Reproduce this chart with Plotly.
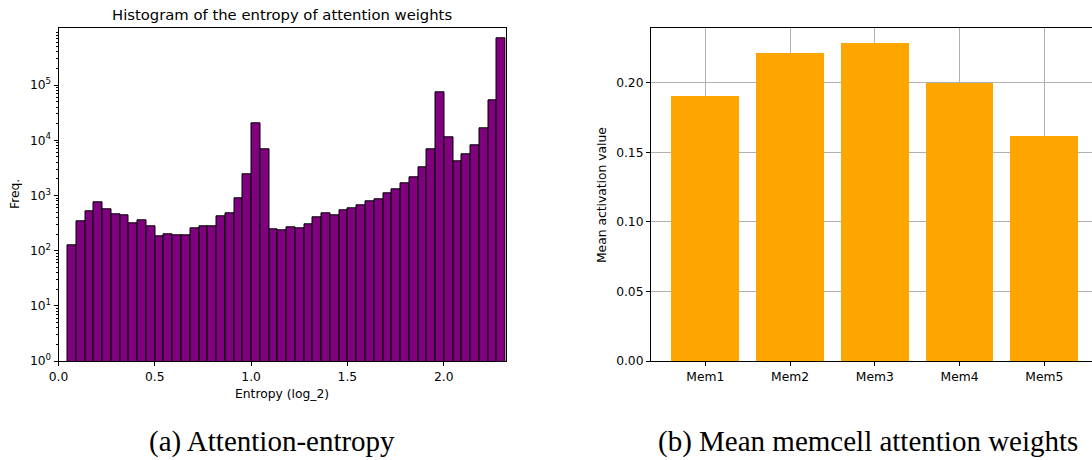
import numpy as np
import plotly.graph_objects as go

# ---------------- data ----------------
# Histogram of attention entropy (50 bins, log-scaled counts)
hist_counts = [
    127, 345, 516, 752, 569, 456, 437, 313, 355, 280,
    184, 200, 192, 192, 250, 272, 280, 413, 475, 901,
    2420, 20300, 6870, 244, 230, 269, 258, 300, 408, 482,
    443, 531, 593, 663, 773, 864, 1095, 1312, 1662, 2135,
    3243, 6870, 73100, 11330, 4220, 5500, 8230, 16500, 53100, 706000,
]
bin_start = 0.047
bin_end = float(np.log2(5))
x_ticks_a = [0.0, 0.5, 1.0, 1.5, 2.0]
y_ticks_a = [1, 10, 100, 1000, 10000, 100000]
y_ticktext_a = ["10<sup>0</sup>", "10<sup>1</sup>", "10<sup>2</sup>",
                "10<sup>3</sup>", "10<sup>4</sup>", "10<sup>5</sup>"]

# Mean memcell attention weights
mem_labels = ["Mem1", "Mem2", "Mem3", "Mem4", "Mem5"]
mem_values = [0.1904, 0.2210, 0.2282, 0.1997, 0.1614]
y_ticks_b = [0.00, 0.05, 0.10, 0.15, 0.20]

# ---------------- layout helpers ----------------
W, H = 1092, 460
def px(xp):
    return xp / W
def py(yp):
    return 1 - yp / H

edges = np.linspace(bin_start, bin_end, len(hist_counts) + 1)
centers = (edges[:-1] + edges[1:]) / 2
widths = np.diff(edges)

minor_vals = [m * 10 ** d for d in range(0, 6) for m in range(2, 10)]

FONT = "DejaVu Sans"
TXT = "#000000"
fs = 12.3

fig = go.Figure()

fig.add_trace(go.Bar(
    x=centers, y=hist_counts, width=widths,
    marker=dict(color="#800080", line=dict(color="#000000", width=1)),
    xaxis="x", yaxis="y", showlegend=False,
))

fig.add_trace(go.Bar(
    x=list(range(len(mem_labels))), y=mem_values, width=0.8,
    marker=dict(color="#FFA500", line=dict(width=0)),
    xaxis="x2", yaxis="y2", showlegend=False,
))

fig.update_layout(
    width=W, height=H, autosize=False,
    margin=dict(l=0, r=0, t=0, b=0, pad=0, autoexpand=False),
    paper_bgcolor="white", plot_bgcolor="white",
    font=dict(family=FONT, size=fs, color=TXT),
    bargap=0, showlegend=False,
    xaxis=dict(
        domain=[px(58.5), px(505.7)],
        range=[0, bin_end], automargin=False,
        tickvals=x_ticks_a, ticktext=[f"{v:.1f}" for v in x_ticks_a],
        ticks="outside", ticklen=4, tickwidth=1, tickcolor="black",
        showline=True, linecolor="black", linewidth=1, mirror=True,
        showgrid=False, zeroline=False,
        tickfont=dict(size=fs, color=TXT),
        anchor="y",
    ),
    yaxis=dict(
        domain=[py(361), py(28.3)],
        type="log", range=[0, 6.03], automargin=False,
        tickvals=y_ticks_a, ticktext=y_ticktext_a,
        ticks="outside", ticklen=4, tickwidth=1, tickcolor="black",
        minor=dict(tickvals=minor_vals, ticks="outside", ticklen=2,
                   tickwidth=0.8, tickcolor="black", showgrid=False),
        showline=True, linecolor="black", linewidth=1, mirror=True,
        showgrid=False, zeroline=False,
        tickfont=dict(size=fs, color=TXT),
        anchor="x",
    ),
    xaxis2=dict(
        domain=[px(651), 1.0],
        range=[-0.64, 4.563], automargin=False,
        tickvals=list(range(len(mem_labels))), ticktext=mem_labels,
        ticks="outside", ticklen=4, tickwidth=1, tickcolor="black",
        showline=True, linecolor="black", linewidth=1, mirror=True,
        showgrid=True, gridcolor="#b0b0b0", gridwidth=1,
        zeroline=False,
        tickfont=dict(size=fs, color=TXT),
        anchor="y2",
    ),
    yaxis2=dict(
        domain=[py(361), py(28.3)],
        range=[0, 0.2390], automargin=False,
        tickvals=y_ticks_b, ticktext=[f"{v:.2f}" for v in y_ticks_b],
        ticks="outside", ticklen=4, tickwidth=1, tickcolor="black",
        showline=True, linecolor="black", linewidth=1, mirror=False,
        showgrid=True, gridcolor="#b0b0b0", gridwidth=1,
        zeroline=False,
        tickfont=dict(size=fs, color=TXT),
        anchor="x2",
    ),
)

ann = [
    dict(text="Histogram of the entropy of attention weights", x=px(282.1), y=py(14.5),
         font=dict(family=FONT, size=14.8, color=TXT)),
    dict(text="Entropy (log_2)", x=px(282.1), y=py(393.5),
         font=dict(family=FONT, size=fs, color=TXT)),
    dict(text="Freq.", x=px(15.5), y=py(194.5), textangle=-90,
         font=dict(family=FONT, size=fs, color=TXT)),
    dict(text="Mean activation value", x=px(602), y=py(195), textangle=-90,
         font=dict(family=FONT, size=fs, color=TXT)),
    dict(text="(a) Attention-entropy", x=px(272), y=py(441),
         font=dict(family="Liberation Serif", size=29, color=TXT)),
    dict(text="(b) Mean memcell attention weights", x=px(867.5), y=py(441),
         font=dict(family="Liberation Serif", size=29, color=TXT)),
]
for a in ann:
    a.update(xref="paper", yref="paper", xanchor="center", yanchor="middle",
             showarrow=False)
    fig.add_annotation(**a)

fig.write_html("out.html", config={"responsive": False})
